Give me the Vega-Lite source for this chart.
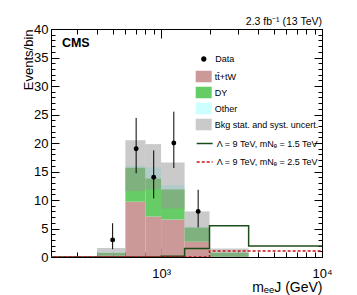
{
  "$schema": "https://vega.github.io/schema/vega-lite/v6.json",
  "width": 271,
  "height": 228,
  "autosize": {"type": "none"},
  "padding": {"left": 51, "top": 29, "right": 35, "bottom": 38},
  "background": "white",
  "config": {
    "view": {"stroke": "black", "strokeWidth": 1},
    "font": "Liberation Sans",
    "axis": {"grid": false, "domainColor": "black", "tickColor": "black", "labelColor": "black", "titleColor": "black", "labelFont": "Liberation Sans", "titleFont": "Liberation Sans", "labelFontSize": 13, "titleFontWeight": "normal", "tickWidth": 1},
    "legend": {"labelFont": "Liberation Sans", "labelFontSize": 9, "labelColor": "black", "padding": 0}
  },
  "title": {"text": "2.3 fb⁻¹ (13 TeV)", "anchor": "end", "fontSize": 10.5, "fontWeight": "normal", "font": "Liberation Sans", "color": "black", "baseline": "alphabetic", "offset": 7.5, "dy": 20, "frame": "group"},
  "datasets": {
    "bkg": [
      {"lo": 400, "hi": 600, "proc": "tt̄+tW", "ord": 1, "n": 0.25},
      {"lo": 400, "hi": 600, "proc": "DY", "ord": 2, "n": 0.45},
      {"lo": 400, "hi": 600, "proc": "Other", "ord": 3, "n": 0.1},
      {"lo": 600, "hi": 800, "proc": "tt̄+tW", "ord": 1, "n": 9.7},
      {"lo": 600, "hi": 800, "proc": "DY", "ord": 2, "n": 6.0},
      {"lo": 600, "hi": 800, "proc": "Other", "ord": 3, "n": 0.3},
      {"lo": 800, "hi": 1000, "proc": "tt̄+tW", "ord": 1, "n": 7.1},
      {"lo": 800, "hi": 1000, "proc": "DY", "ord": 2, "n": 6.7},
      {"lo": 800, "hi": 1000, "proc": "Other", "ord": 3, "n": 1.9},
      {"lo": 1000, "hi": 1400, "proc": "tt̄+tW", "ord": 1, "n": 6.6},
      {"lo": 1000, "hi": 1400, "proc": "DY", "ord": 2, "n": 5.3},
      {"lo": 1000, "hi": 1400, "proc": "Other", "ord": 3, "n": 0.7},
      {"lo": 1400, "hi": 2000, "proc": "tt̄+tW", "ord": 1, "n": 2.7},
      {"lo": 1400, "hi": 2000, "proc": "DY", "ord": 2, "n": 2.5},
      {"lo": 1400, "hi": 2000, "proc": "Other", "ord": 3, "n": 0.1},
      {"lo": 2000, "hi": 3500, "proc": "tt̄+tW", "ord": 1, "n": 0.05},
      {"lo": 2000, "hi": 3500, "proc": "DY", "ord": 2, "n": 0.7},
      {"lo": 2000, "hi": 3500, "proc": "Other", "ord": 3, "n": 0.0}
    ],
    "band": [
      {"lo": 400, "hi": 600, "ylo": 0, "yhi": 1.6},
      {"lo": 600, "hi": 800, "ylo": 11.6, "yhi": 20.5},
      {"lo": 800, "hi": 1000, "ylo": 11.9, "yhi": 19.8},
      {"lo": 1000, "hi": 1400, "ylo": 8.5, "yhi": 16.6},
      {"lo": 1400, "hi": 2000, "ylo": 2.7, "yhi": 8.0},
      {"lo": 2000, "hi": 3500, "ylo": 0, "yhi": 1.5}
    ],
    "obs": [
      {"x": 500, "n": 3, "lo": 1.37, "hi": 5.92},
      {"x": 700, "n": 19, "lo": 14.7, "hi": 24.4},
      {"x": 900, "n": 14, "lo": 10.3, "hi": 18.7},
      {"x": 1200, "n": 20, "lo": 15.6, "hi": 25.5},
      {"x": 1700, "n": 8, "lo": 5.2, "hi": 11.8}
    ],
    "sig": [
      {"sig": "Λ = 9 TeV, mNₑ = 1.5 TeV", "x": 200, "y": 0},
      {"sig": "Λ = 9 TeV, mNₑ = 1.5 TeV", "x": 1000, "y": 0.15},
      {"sig": "Λ = 9 TeV, mNₑ = 1.5 TeV", "x": 1400, "y": 1.5},
      {"sig": "Λ = 9 TeV, mNₑ = 1.5 TeV", "x": 2000, "y": 5.5},
      {"sig": "Λ = 9 TeV, mNₑ = 1.5 TeV", "x": 3500, "y": 1.95},
      {"sig": "Λ = 9 TeV, mNₑ = 1.5 TeV", "x": 10000, "y": 1.95},
      {"sig": "Λ = 9 TeV, mNₑ = 2.5 TeV", "x": 200, "y": 0},
      {"sig": "Λ = 9 TeV, mNₑ = 2.5 TeV", "x": 2000, "y": 1.05},
      {"sig": "Λ = 9 TeV, mNₑ = 2.5 TeV", "x": 3500, "y": 1.05},
      {"sig": "Λ = 9 TeV, mNₑ = 2.5 TeV", "x": 10000, "y": 1.05}
    ],
    "label": [{"t": "CMS"}]
  },
  "layer": [
    {
      "data": {"name": "bkg"},
      "transform": [{"stack": "n", "groupby": ["lo"], "sort": [{"field": "ord", "order": "ascending"}], "as": ["y0", "y1"]}],
      "mark": {"type": "rect"},
      "encoding": {
        "x": {"field": "lo", "type": "quantitative", "scale": {"type": "log", "domain": [207, 10000], "nice": false, "zero": false},
          "axis": {"orient": "bottom", "values": [300, 400, 500, 600, 700, 800, 900, 1000, 2000, 3000, 4000, 5000, 6000, 7000, 8000, 9000, 10000],
            "labelExpr": "datum.value == 1000 ? '10³' : (datum.value == 10000 ? '10⁴' : '')",
            "tickSize": {"condition": {"test": "datum.value == 1000 || datum.value == 10000", "value": -9}, "value": -5},
            "labelPadding": 19, "labelFlush": false, "labelOverlap": false, "labelFontSize": 13,
            "title": "mₑₑJ (GeV)", "titleX": 271, "titleY": 34, "titleAlign": "right", "titleBaseline": "alphabetic", "titleFontSize": 14, "titleAnchor": null}},
        "x2": {"field": "hi"},
        "y": {"field": "y0", "type": "quantitative", "scale": {"domain": [0, 40], "nice": false, "zero": false},
          "axis": {"orient": "left", "values": [0,1,2,3,4,5,6,7,8,9,10,11,12,13,14,15,16,17,18,19,20,21,22,23,24,25,26,27,28,29,30,31,32,33,34,35,36,37,38,39,40],
            "labelExpr": "datum.value % 5 == 0 ? datum.label : ''",
            "tickSize": {"condition": {"test": "datum.value % 5 == 0", "value": -8}, "value": -4},
            "labelPadding": 11, "labelOverlap": false, "labelFontSize": 13,
            "title": "Events/bin", "titleX": -19, "titleY": 0, "titleAngle": -90, "titleAlign": "right", "titleBaseline": "alphabetic", "titleFontSize": 13}},
        "y2": {"field": "y1"},
        "fill": {"field": "proc", "type": "nominal",
          "scale": {"domain": ["tt̄+tW", "DY", "Other", "Bkg stat. and syst. uncert."], "range": ["#cc9999", "#66cc66", "#ccffff", "rgba(150,150,150,0.5)"]},
          "legend": {"title": null, "orient": "none", "legendX": 144.7, "legendY": 39.5, "symbolType": "M-1,-0.72H1V0.72H-1Z", "symbolSize": 256, "symbolStrokeWidth": 0, "symbolOpacity": 1, "labelOffset": 3, "rowPadding": 2}}
      }
    },
    {
      "data": {"name": "band"},
      "mark": {"type": "rect"},
      "encoding": {
        "x": {"field": "lo", "type": "quantitative", "scale": {"type": "log", "domain": [207, 10000], "nice": false, "zero": false},
          "axis": {"orient": "top", "values": [300, 400, 500, 600, 700, 800, 900, 1000, 2000, 3000, 4000, 5000, 6000, 7000, 8000, 9000, 10000],
            "labels": false, "title": null,
            "tickSize": {"condition": {"test": "datum.value == 1000 || datum.value == 10000", "value": -9}, "value": -5}}},
        "x2": {"field": "hi"},
        "y": {"field": "ylo", "type": "quantitative", "scale": {"domain": [0, 40], "nice": false, "zero": false},
          "axis": {"orient": "right", "values": [0,1,2,3,4,5,6,7,8,9,10,11,12,13,14,15,16,17,18,19,20,21,22,23,24,25,26,27,28,29,30,31,32,33,34,35,36,37,38,39,40],
            "labels": false, "title": null,
            "tickSize": {"condition": {"test": "datum.value % 5 == 0", "value": -8}, "value": -4}}},
        "y2": {"field": "yhi"},
        "fill": {"datum": "Bkg stat. and syst. uncert.", "type": "nominal",
          "scale": {"domain": ["tt̄+tW", "DY", "Other", "Bkg stat. and syst. uncert."], "range": ["#cc9999", "#66cc66", "#ccffff", "rgba(150,150,150,0.5)"]},
          "legend": {"title": null, "orient": "none", "legendX": 144.7, "legendY": 39.5, "symbolType": "M-1,-0.72H1V0.72H-1Z", "symbolSize": 256, "symbolStrokeWidth": 0, "symbolOpacity": 1, "labelOffset": 3, "rowPadding": 2}}
      }
    },
    {
      "data": {"name": "sig"},
      "mark": {"type": "line", "interpolate": "step-after", "strokeWidth": 1.5, "clip": true},
      "encoding": {
        "x": {"field": "x", "type": "quantitative", "scale": {"type": "log", "domain": [207, 10000], "nice": false, "zero": false}, "axis": null},
        "y": {"field": "y", "type": "quantitative", "scale": {"domain": [0, 40], "nice": false, "zero": false}, "axis": null},
        "stroke": {"field": "sig", "type": "nominal",
          "scale": {"domain": ["Λ = 9 TeV, mNₑ = 1.5 TeV", "Λ = 9 TeV, mNₑ = 2.5 TeV"], "range": ["#1b4d1b", "#cc1111"]},
          "legend": {"title": null, "orient": "none", "legendX": 144.7, "legendY": 105.5, "symbolType": "stroke", "symbolSize": 256, "symbolStrokeWidth": 1.5, "labelOffset": 3, "rowPadding": 4.4}},
        "strokeDash": {"field": "sig", "type": "nominal",
          "scale": {"domain": ["Λ = 9 TeV, mNₑ = 1.5 TeV", "Λ = 9 TeV, mNₑ = 2.5 TeV"], "range": [[1, 0], [3, 2]]},
          "legend": {"title": null, "orient": "none", "legendX": 144.7, "legendY": 105.5, "symbolType": "stroke", "symbolSize": 256, "symbolStrokeWidth": 1.5, "labelOffset": 3, "rowPadding": 4.4}}
      }
    },
    {
      "data": {"name": "obs"},
      "mark": {"type": "rule", "color": "black", "strokeWidth": 1},
      "encoding": {
        "x": {"field": "x", "type": "quantitative", "scale": {"type": "log", "domain": [207, 10000], "nice": false, "zero": false}, "axis": null},
        "y": {"field": "lo", "type": "quantitative", "scale": {"domain": [0, 40], "nice": false, "zero": false}, "axis": null},
        "y2": {"field": "hi"}
      }
    },
    {
      "data": {"name": "obs"},
      "mark": {"type": "point", "filled": true, "color": "black", "size": 24},
      "encoding": {
        "x": {"field": "x", "type": "quantitative", "scale": {"type": "log", "domain": [207, 10000], "nice": false, "zero": false}, "axis": null},
        "y": {"field": "n", "type": "quantitative", "scale": {"domain": [0, 40], "nice": false, "zero": false}, "axis": null},
        "opacity": {"datum": "Data", "type": "ordinal", "scale": {"type": "ordinal", "domain": ["Data"], "range": [1]},
          "legend": {"title": null, "orient": "none", "legendX": 146.3, "legendY": 23.5, "symbolType": "M-0.45,0A0.45,0.45,0,1,0,0.45,0A0.45,0.45,0,1,0,-0.45,0ZM0,-1L0,1", "symbolSize": 144, "symbolFillColor": "black", "symbolStrokeColor": "black", "symbolStrokeWidth": 1, "labelOffset": 5}}
      }
    },
    {
      "data": {"name": "label"},
      "mark": {"type": "text", "fontWeight": "bold", "fontSize": 12.5, "align": "left", "baseline": "alphabetic", "font": "Liberation Sans", "color": "black"},
      "encoding": {
        "text": {"field": "t"},
        "x": {"datum": 242, "type": "quantitative", "scale": {"type": "log", "domain": [207, 10000], "nice": false, "zero": false}, "axis": null},
        "y": {"datum": 36.8, "type": "quantitative", "scale": {"domain": [0, 40], "nice": false, "zero": false}, "axis": null}
      }
    }
  ],
  "resolve": {"axis": {"x": "independent", "y": "independent"}}
}
